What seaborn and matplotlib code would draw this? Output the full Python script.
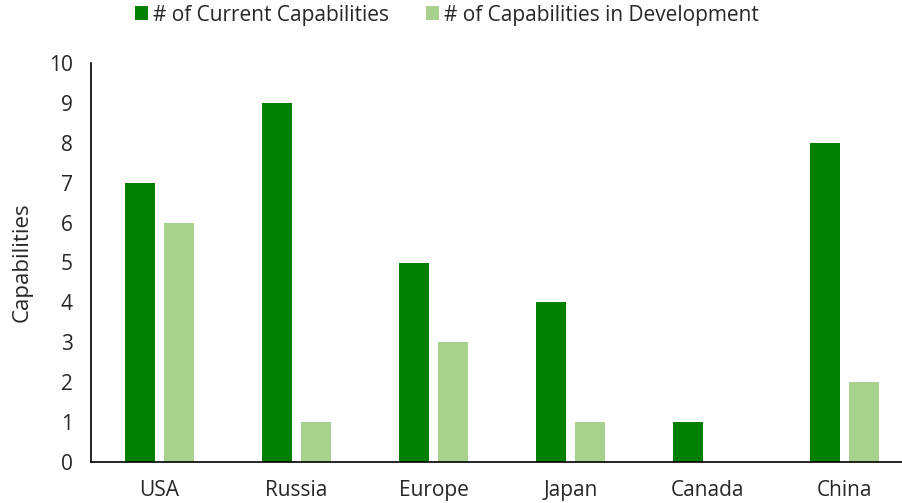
import pandas as pd
import numpy as np
import matplotlib.pyplot as plt
import seaborn as sns

countries = ["USA", "Russia", "Europe", "Japan", "Canada", "China"]
current = [7, 9, 5, 4, 1, 8]
development = [6, 1, 3, 1, 0, 2]
series = ["# of Current Capabilities", "# of Capabilities in Development"]

df = pd.DataFrame({
    "country": countries * 2,
    "value": current + development,
    "series": [series[0]] * len(countries) + [series[1]] * len(countries),
})

sns.set_style("white")
plt.rcParams["font.family"] = ["Open Sans", "DejaVu Sans"]

fig = plt.figure(figsize=(9.03, 5.03), dpi=100)
ax = fig.add_axes([91 / 903, (503 - 462) / 503, 822 / 903, 399 / 503])

sns.barplot(data=df, x="country", y="value", hue="series",
            palette=["#008000", "#A9D18E"], width=0.57, gap=0.21,
            saturation=1, linewidth=0, ax=ax)

ax.set_xlim(-0.5, 5.5)
ax.set_ylim(0, 10)
ax.set_yticks(range(0, 11))
ax.set_xlabel("")
ax.set_ylabel("Capabilities", fontsize=16, labelpad=12)
ax.tick_params(axis="both", length=0, labelsize=15, pad=13)
for s in ["top", "right"]:
    ax.spines[s].set_visible(False)
for s in ["left", "bottom"]:
    ax.spines[s].set_color("black")
    ax.spines[s].set_linewidth(1.2)

handles, labels = ax.get_legend_handles_labels()
ax.get_legend().remove()
fig.legend(handles, labels, loc="center", bbox_to_anchor=(0.495, 1 - 15 / 503),
           ncol=2, frameon=False, fontsize=15, handlelength=0.62, handleheight=0.62,
           handletextpad=0.25, columnspacing=1.8, borderaxespad=0)

fig.savefig("out.png", dpi=100)
